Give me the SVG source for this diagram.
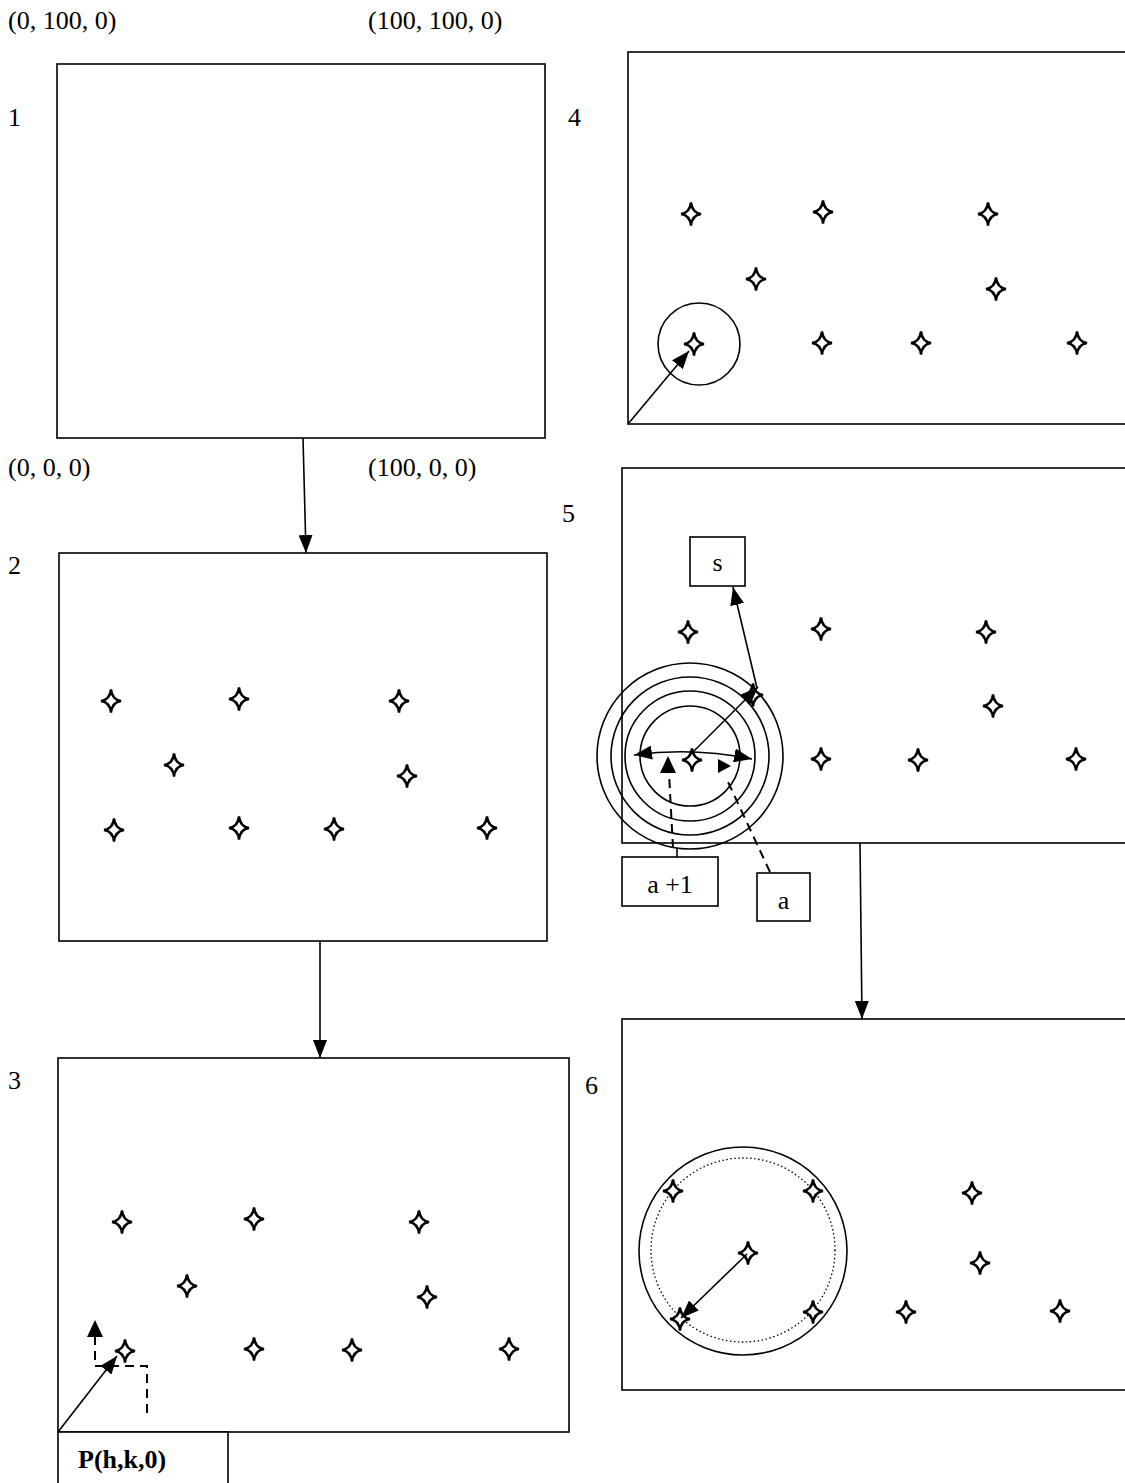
<svg xmlns="http://www.w3.org/2000/svg" xmlns:xlink="http://www.w3.org/1999/xlink" width="1125" height="1483" viewBox="0 0 1125 1483">
<style>
.panel{fill:none;stroke:#000;stroke-width:1.6}
.box{fill:#fff;stroke:#000;stroke-width:1.6}
.ln{fill:none;stroke:#000;stroke-width:1.6}
.dash{fill:none;stroke:#000;stroke-width:2;stroke-dasharray:9,6}
.t{font-family:"Liberation Serif","Times New Roman",serif;font-size:26px;fill:#000}
.tb{font-family:"Liberation Serif","Times New Roman",serif;font-size:26px;font-weight:bold;fill:#000}
.star{fill:#fff;stroke:#000;stroke-width:2.4}
</style>
<defs>
<path id="st" d="M0,-11.5 Q1.2,-1.2 10,0 Q1.2,1.2 0,11.5 Q-1.2,1.2 -10,0 Q-1.2,-1.2 0,-11.5Z" class="star"/>
<marker id="ahb" viewBox="0 0 18 14" refX="18" refY="7" markerWidth="18" markerHeight="14" markerUnits="userSpaceOnUse" orient="auto-start-reverse"><path d="M0,0L18,7L0,14Z" fill="#000"/></marker>
</defs>

<g id="labels">
<text class="t" x="8" y="29">(0, 100, 0)</text>
<text class="t" x="368" y="29">(100, 100, 0)</text>
<text class="t" x="8" y="476">(0, 0, 0)</text>
<text class="t" x="368" y="476">(100, 0, 0)</text>
<text class="t" x="8" y="126">1</text>
<text class="t" x="8" y="574">2</text>
<text class="t" x="8" y="1089">3</text>
<text class="t" x="568" y="126">4</text>
<text class="t" x="562" y="522">5</text>
<text class="t" x="585" y="1094">6</text>
</g>

<g id="panel1">
<rect class="panel" x="57" y="64" width="488" height="374"/>
</g>

<g id="panel2">
<rect class="panel" x="59" y="553" width="488" height="388"/>
<use xlink:href="#st" x="111" y="701"/>
<use xlink:href="#st" x="239" y="699"/>
<use xlink:href="#st" x="399" y="701"/>
<use xlink:href="#st" x="174" y="765"/>
<use xlink:href="#st" x="407" y="776"/>
<use xlink:href="#st" x="114" y="830"/>
<use xlink:href="#st" x="239" y="828"/>
<use xlink:href="#st" x="334" y="829"/>
<use xlink:href="#st" x="487" y="828"/>
</g>

<g id="panel3">
<rect class="panel" x="58" y="1058" width="511" height="374"/>
<use xlink:href="#st" x="122" y="1222"/>
<use xlink:href="#st" x="254" y="1219"/>
<use xlink:href="#st" x="419" y="1222"/>
<use xlink:href="#st" x="187" y="1286"/>
<use xlink:href="#st" x="427" y="1297"/>
<use xlink:href="#st" x="125" y="1351"/>
<use xlink:href="#st" x="254" y="1349"/>
<use xlink:href="#st" x="352" y="1350"/>
<use xlink:href="#st" x="509" y="1349"/>
<path class="dash" d="M147,1413 V1366 H95 V1337"/>
<path d="M87,1337 L95,1320 L103,1337Z" fill="#000"/>
<line class="ln" x1="58" y1="1432" x2="117" y2="1356" marker-end="url(#ahb)"/>
</g>

<g id="pbox">
<rect class="box" x="58" y="1432" width="170" height="60"/>
<text class="tb" x="78" y="1468">P(h,k,0)</text>
</g>

<g id="panel4">
<rect class="panel" x="628" y="52" width="510" height="372"/>
<circle class="ln" cx="699" cy="344" r="41"/>
<use xlink:href="#st" x="691" y="214"/>
<use xlink:href="#st" x="823" y="212"/>
<use xlink:href="#st" x="988" y="214"/>
<use xlink:href="#st" x="756" y="279"/>
<use xlink:href="#st" x="996" y="289"/>
<use xlink:href="#st" x="694" y="344"/>
<use xlink:href="#st" x="822" y="343"/>
<use xlink:href="#st" x="921" y="343"/>
<use xlink:href="#st" x="1077" y="343"/>
<line class="ln" x1="628" y1="424" x2="689" y2="351" marker-end="url(#ahb)"/>
</g>

<g id="panel5">
<rect class="panel" x="622" y="468" width="516" height="375"/>
<use xlink:href="#st" x="688" y="632"/>
<use xlink:href="#st" x="821" y="629"/>
<use xlink:href="#st" x="986" y="632"/>
<use xlink:href="#st" x="993" y="706"/>
<use xlink:href="#st" x="821" y="759"/>
<use xlink:href="#st" x="918" y="760"/>
<use xlink:href="#st" x="1076" y="759"/>
<circle class="ln" cx="690" cy="756" r="93"/>
<circle class="ln" cx="690" cy="756" r="79"/>
<circle class="ln" cx="690" cy="756" r="65"/>
<circle class="ln" cx="690" cy="756" r="50"/>
<use xlink:href="#st" x="753" y="695"/>
<use xlink:href="#st" x="692" y="760"/>
<path class="ln" d="M634,755 Q692,747 752,759" marker-start="url(#ahb)" marker-end="url(#ahb)"/>
<line class="ln" x1="692" y1="753" x2="758" y2="687" marker-end="url(#ahb)"/>
<line class="ln" x1="757" y1="688" x2="733" y2="587" marker-end="url(#ahb)"/>
<path class="ln" d="M677,857 V848"/>
<path class="dash" d="M673,848 L669,773"/>
<path d="M660,773 L668,756 L676,773Z" fill="#000"/>
<path class="dash" d="M770,872 L728,782"/>
<path d="M718,759 L718,773 L731,766Z" fill="#000"/>
</g>

<g id="sbox">
<rect class="box" x="690" y="537" width="55" height="49"/>
<text class="t" x="717.5" y="571" text-anchor="middle">s</text>
</g>
<g id="a1box">
<rect class="box" x="622" y="857" width="96" height="49"/>
<text class="t" x="670" y="893" text-anchor="middle">a +1</text>
</g>
<g id="abox">
<rect class="box" x="757" y="873" width="53" height="48"/>
<text class="t" x="783.5" y="909" text-anchor="middle">a</text>
</g>

<g id="panel6">
<rect class="panel" x="622" y="1019" width="516" height="371"/>
<circle class="ln" cx="743" cy="1251" r="104"/>
<circle cx="743" cy="1250" r="92" fill="none" stroke="#000" stroke-width="1.3" stroke-dasharray="1.5,2.5"/>
<use xlink:href="#st" x="673" y="1191"/>
<use xlink:href="#st" x="813" y="1191"/>
<use xlink:href="#st" x="748" y="1253"/>
<use xlink:href="#st" x="680" y="1319"/>
<use xlink:href="#st" x="813" y="1312"/>
<use xlink:href="#st" x="972" y="1193"/>
<use xlink:href="#st" x="980" y="1263"/>
<use xlink:href="#st" x="906" y="1312"/>
<use xlink:href="#st" x="1060" y="1311"/>
<line class="ln" x1="747" y1="1254" x2="681" y2="1318" marker-end="url(#ahb)"/>
</g>

<g id="connectors">
<line class="ln" x1="303" y1="438" x2="306" y2="553" marker-end="url(#ahb)"/>
<line class="ln" x1="320" y1="941" x2="320" y2="1058" marker-end="url(#ahb)"/>
<line class="ln" x1="860" y1="843" x2="862" y2="1019" marker-end="url(#ahb)"/>
</g>
</svg>
